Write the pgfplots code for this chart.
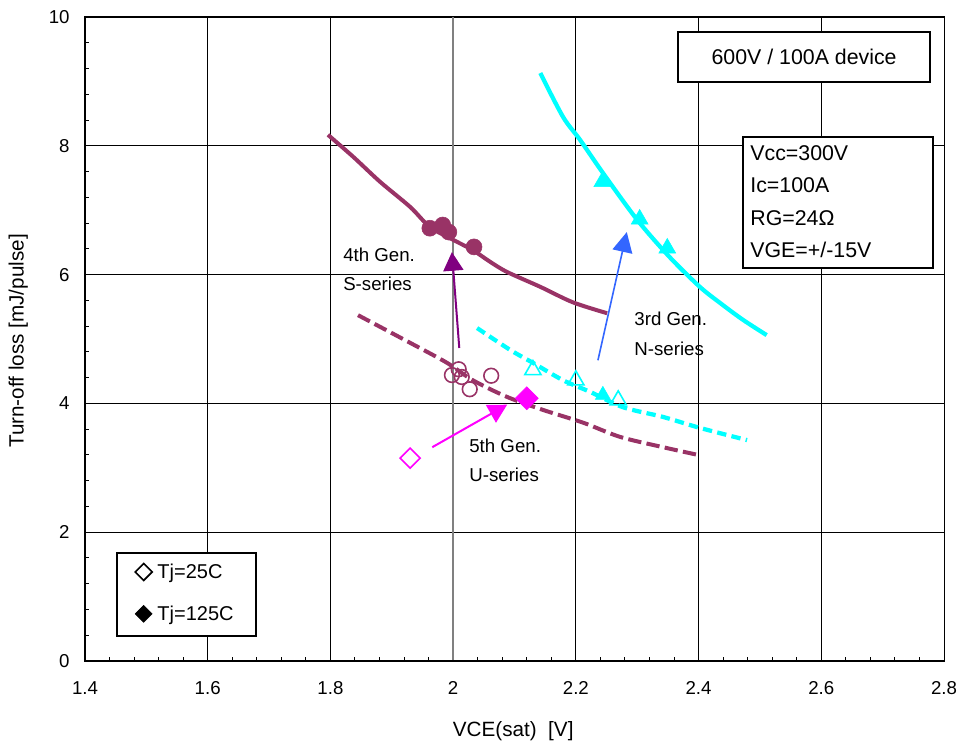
\documentclass[border=0pt]{standalone}
\usepackage{fontspec}
\setmainfont{Liberation Sans}
\usepackage{pgfplots}
\pgfplotsset{compat=1.18}
\usetikzlibrary{arrows.meta}
\definecolor{plum}{HTML}{993366}
\definecolor{cyn}{HTML}{00FFFF}
\definecolor{mag}{HTML}{FF00FF}
\definecolor{purp}{HTML}{800080}
\definecolor{blu}{HTML}{3366FF}
\begin{document}
\begin{tikzpicture}
\useasboundingbox (-63.75pt,-63pt) rectangle (655.5pt,495.75pt);
\begin{axis}[
 scale only axis, width=644.25pt, height=483pt,
 xmin=1.4, xmax=2.8, ymin=0, ymax=10,
 xtick={1.4,1.6,1.8,2,2.2,2.4,2.6,2.8}, ytick={0,2,4,6,8,10},
 minor x tick num=4, minor y tick num=4,
 tick align=inside, xtick pos=bottom, ytick pos=left,
 major tick length=0pt, minor tick length=3pt,
 minor tick style={black, line width=0.75pt},
 grid=major, major grid style={black, line width=0.6pt},
 axis line style={black, line width=0.75pt},
 tick label style={font=\fontsize{14}{16}\selectfont},
 /pgf/number format/assume math mode=true,
 xticklabel style={yshift=-12pt},
 yticklabel style={xshift=-8pt},
 xlabel={VCE(sat)\ \ [V]},
 xlabel style={at={(axis description cs:0.4985,-0.1097)}, anchor=center, font=\fontsize{15.5}{18}\selectfont},
 ylabel={Turn-off loss [mJ/pulse]},
 ylabel style={at={(axis description cs:-0.0776,0.497)}, anchor=center, font=\fontsize{15.5}{18}\selectfont},
 clip=false,
 legend style={at={(axis cs:1.452,1.68)}, anchor=north west, draw=none, fill=none,
   font=\fontsize{15}{18}\selectfont, inner xsep=13.5pt, inner ysep=6pt, row sep=15pt,
   /tikz/every odd column/.append style={column sep=2pt}},
 legend cell align=left,
]
% legend images
\addlegendimage{only marks, mark=square, mark size=4.5pt, mark options={rotate=45, draw=black, fill=white, line width=1.2pt}}
\addlegendentry{Tj=25C}
\addlegendimage{only marks, mark=square*, mark size=4.5pt, mark options={rotate=45, draw=black, fill=black}}
\addlegendentry{Tj=125C}

\draw[gray, line width=1.2pt] (axis cs:2,0) -- (axis cs:2,10);
\draw[black, line width=1.5pt] (axis cs:1.4,10) -- (axis cs:1.4,0) -- (axis cs:2.8,0);

% 4th gen S-series, 125C solid
\addplot[forget plot, plum, line width=3pt, line join=round, smooth, tension=0.5] coordinates {
(1.796,8.17)(1.837,7.83)(1.881,7.44)(1.930,7.05)(1.962,6.74)(2.000,6.54)(2.032,6.38)(2.060,6.20)(2.088,6.04)(2.142,5.81)(2.195,5.57)(2.251,5.40)};
\addplot[forget plot, only marks, mark=*, mark size=6pt, mark options={fill=plum, draw=plum}] coordinates {
(1.962,6.72)(1.983,6.77)(1.993,6.66)(2.034,6.43)};

% 4th gen 25C dashed
\addplot[forget plot, plum, line width=3pt, dash pattern=on 10pt off 4pt, smooth, tension=0.5] coordinates {
(1.845,5.37)(1.930,4.94)(1.990,4.63)(2.032,4.36)(2.088,4.10)(2.146,3.90)(2.212,3.70)(2.272,3.48)(2.342,3.32)(2.399,3.20)};
\addplot[forget plot, only marks, mark=o, mark size=5.5pt, mark options={draw=plum, line width=1.2pt}] coordinates {
(1.998,4.44)(2.009,4.53)(2.014,4.41)(2.027,4.22)(2.062,4.43)};

% 3rd gen N-series 125C solid
\addplot[forget plot, cyn, line width=3.2pt, line join=round, smooth, tension=0.5] coordinates {
(2.142,9.13)(2.179,8.45)(2.207,8.09)(2.244,7.58)(2.300,6.85)(2.353,6.27)(2.402,5.81)(2.435,5.56)(2.472,5.30)(2.511,5.06)};
\addplot[forget plot, only marks, mark=triangle*, mark size=7.3pt, mark options={fill=cyn, draw=cyn}] coordinates {
(2.243,7.44)(2.304,6.86)(2.349,6.41)};

% 3rd gen 25C dashed
\addplot[forget plot, cyn, line width=3.2pt, dash pattern=on 7pt off 4pt, smooth, tension=0.5] coordinates {
(2.039,5.17)(2.093,4.83)(2.130,4.63)(2.179,4.36)(2.223,4.18)(2.277,3.94)(2.342,3.79)(2.402,3.62)(2.479,3.43)};
\addplot[forget plot, only marks, mark=triangle, mark size=7pt, mark options={draw=cyn, line width=1.2pt}] coordinates {
(2.130,4.52)(2.200,4.36)(2.269,4.05)};
\addplot[forget plot, only marks, mark=triangle*, mark size=6.5pt, mark options={fill=cyn, draw=cyn}] coordinates {
(2.244,4.13)};

% 5th gen U-series
\addplot[forget plot, only marks, mark=square, mark size=5.3pt, mark options={rotate=45, draw=mag, line width=1.2pt}] coordinates {(1.930,3.15)};
\addplot[forget plot, only marks, mark=square*, mark size=6.1pt, mark options={rotate=45, draw=mag, fill=mag}] coordinates {(2.120,4.08)};

% arrows
\addplot[forget plot, mag, line width=1.5pt, -{Triangle[length=14pt,width=15pt]}] coordinates {(1.966,3.32)(2.088,3.98)};
\addplot[forget plot, purp, line width=1.5pt, -{Triangle[length=14pt,width=15pt]}] coordinates {(2.010,4.86)(1.998,6.35)};
\addplot[forget plot, blu, line width=1.2pt, -{Triangle[length=15pt,width=15pt]}] coordinates {(2.236,4.67)(2.283,6.66)};

% text
\begin{scope}[font=\fontsize{14}{16}\selectfont]
\node[anchor=west, inner sep=0] at (axis cs:1.8205,6.30) {4th Gen.};
\node[anchor=west, inner sep=0] at (axis cs:1.8205,5.85) {S-series};
\node[anchor=west, inner sep=0] at (axis cs:2.295,5.31) {3rd Gen.};
\node[anchor=west, inner sep=0] at (axis cs:2.295,4.84) {N-series};
\node[anchor=west, inner sep=0] at (axis cs:2.026,3.34) {5th Gen.};
\node[anchor=west, inner sep=0] at (axis cs:2.026,2.89) {U-series};
\end{scope}

% boxes
\draw[black, line width=1.2pt, fill=white] (axis cs:2.366,9.77) rectangle (axis cs:2.777,8.99);
\node[font=\fontsize{16}{18}\selectfont] at (axis cs:2.572,9.38) {600V / 100A device};
\draw[black, line width=1.2pt, fill=white] (axis cs:2.472,8.14) rectangle (axis cs:2.782,6.10);
\begin{scope}[font=\fontsize{16}{18}\selectfont]
\node[anchor=west, inner sep=0] at (axis cs:2.484,7.89) {Vcc=300V};
\node[anchor=west, inner sep=0] at (axis cs:2.484,7.39) {Ic=100A};
\node[anchor=west, inner sep=0] at (axis cs:2.484,6.88) {RG=24Ω};
\node[anchor=west, inner sep=0] at (axis cs:2.484,6.38) {VGE=+/-15V};
\end{scope}
\draw[black, line width=1.2pt, fill=white] (axis cs:1.452,1.68) rectangle (axis cs:1.679,0.39);
\end{axis}
\end{tikzpicture}
\end{document}
